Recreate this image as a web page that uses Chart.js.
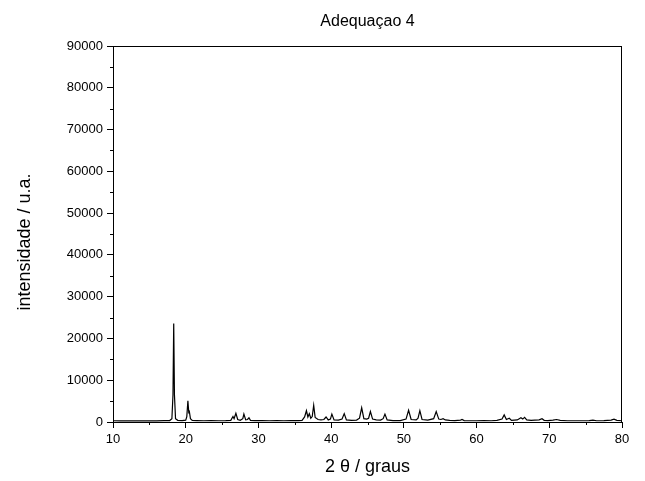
<!DOCTYPE html>
<html>
<head>
<meta charset="utf-8">
<script src="https://cdn.jsdelivr.net/npm/chart.js@4.4.1/dist/chart.umd.min.js"></script>
<style>
  html, body { margin: 0; padding: 0; background: #fff; }
  #wrap { width: 645px; height: 481px; }
</style>
</head>
<body>
<div id="wrap"><canvas id="grafico"></canvas></div>
<script>
const twoTheta = [
  10.0, 11.0, 12.0, 13.0, 14.0, 15.0, 16.0, 17.0, 17.8, 18.1, 18.25, 18.35, 18.45, 18.6, 18.9,
  19.5, 20.0, 20.15, 20.3, 20.42, 20.5, 20.65, 20.9, 21.5, 22.5, 23.5, 24.5, 25.5, 26.2, 26.5,
  26.65, 26.9, 27.15, 27.5, 27.85, 28.0, 28.25, 28.5, 28.7, 28.9, 29.5, 30.5, 31.5, 32.5, 33.5,
  34.5, 35.5, 36.0, 36.35, 36.6, 36.8, 37.0, 37.2, 37.4, 37.6, 37.8, 38.2, 38.6, 39.0, 39.3,
  39.6, 39.9, 40.1, 40.4, 41.0, 41.5, 41.8, 42.1, 42.8, 43.5, 43.9, 44.2, 44.5, 44.9, 45.15,
  45.4, 45.7, 46.2, 46.8, 47.15, 47.4, 47.7, 48.5, 49.5, 50.3, 50.65, 51.0, 51.7, 51.95, 52.2,
  52.5, 53.3, 54.1, 54.45, 54.8, 55.1, 55.4, 55.7, 56.3, 57.0, 57.8, 58.0, 58.3, 59.0, 60.0,
  61.0, 62.0, 62.8, 63.5, 63.8, 64.1, 64.5, 64.8, 65.6, 66.1, 66.35, 66.6, 66.9, 67.5, 68.0,
  68.6, 69.0, 69.3, 69.8, 70.5, 71.0, 71.5, 72.5, 73.5, 74.5, 75.5, 76.0, 76.5, 77.5, 78.5,
  78.9, 79.3, 80.0
];
const intensidade = [
  300, 250, 300, 250, 280, 300, 280, 320, 350, 800, 6500, 23600, 6500, 800, 400,
  350, 450, 1300, 5100, 2300, 2500, 800, 400, 350, 300, 320, 300, 320, 400, 1300,
  800, 2100, 600, 400, 800, 1900, 500, 600, 1000, 400, 350, 320, 300, 350, 300,
  350, 330, 400, 1200, 2700, 1200, 2000, 900, 1300, 4000, 1100, 600, 500, 600, 1200,
  500, 700, 1900, 500, 450, 700, 2000, 500, 400, 450, 900, 3400, 800, 700, 900,
  2500, 700, 500, 450, 800, 1900, 500, 350, 350, 700, 2800, 600, 500, 900, 2700,
  600, 450, 800, 2500, 700, 600, 800, 500, 400, 350, 450, 600, 350, 300, 300,
  350, 300, 400, 700, 1700, 600, 900, 400, 500, 1000, 700, 1100, 500, 400, 450,
  500, 800, 400, 350, 450, 600, 400, 300, 300, 300, 350, 450, 300, 350, 450,
  700, 400, 300
];
const xTicks = [10, 20, 30, 40, 50, 60, 70, 80];
const yTicks = [0, 10000, 20000, 30000, 40000, 50000, 60000, 70000, 80000, 90000];
const titulo = 'Adequaçao 4';
const tituloX = '2 θ / graus';
const tituloY = 'intensidade / u.a.';

const fonte = 'Liberation Sans, Arial, sans-serif';

// moldura, ticks menores, titulo e rotulo do eixo y
const molduraPlugin = {
  id: 'moldura',
  afterDraw(chart) {
    const ctx = chart.ctx;
    const a = chart.chartArea;
    const sx = chart.scales.x;
    const sy = chart.scales.y;
    ctx.save();
    ctx.strokeStyle = '#000';
    ctx.lineWidth = 1;
    ctx.strokeRect(a.left + 0.5, a.top + 0.5, a.right - a.left - 1, a.bottom - a.top);
    ctx.beginPath();
    for (let i = 0; i < xTicks.length - 1; i++) {
      const px = Math.round(sx.getPixelForValue((xTicks[i] + xTicks[i + 1]) / 2)) + 0.5;
      ctx.moveTo(px, a.bottom);
      ctx.lineTo(px, a.bottom + 3);
    }
    for (let i = 0; i < yTicks.length - 1; i++) {
      const py = Math.round(sy.getPixelForValue((yTicks[i] + yTicks[i + 1]) / 2)) + 0.5;
      ctx.moveTo(a.left, py);
      ctx.lineTo(a.left - 3, py);
    }
    ctx.stroke();
    ctx.fillStyle = '#000';
    ctx.textAlign = 'center';
    ctx.textBaseline = 'middle';
    ctx.font = '16px ' + fonte;
    ctx.fillText(titulo, (a.left + a.right) / 2, 22);
    ctx.translate(25, 242);
    ctx.rotate(-Math.PI / 2);
    ctx.font = '18px ' + fonte;
    ctx.fillText(tituloY, 0, 0);
    ctx.restore();
  }
};

new Chart(document.getElementById('grafico'), {
  type: 'line',
  data: {
    datasets: [{
      data: twoTheta.map((t, i) => ({ x: t, y: intensidade[i] })),
      borderColor: '#000',
      borderWidth: 1.2,
      pointRadius: 0,
      tension: 0,
      fill: false
    }]
  },
  options: {
    responsive: true,
    maintainAspectRatio: false,
    animation: false,
    layout: { padding: { top: 46, right: 23, left: 0, bottom: 0 } },
    plugins: {
      legend: { display: false },
      tooltip: { enabled: false },
      title: { display: false }
    },
    scales: {
      x: {
        type: 'linear',
        min: 10,
        max: 80,
        afterFit: (s) => { s.height = 59; },
        afterBuildTicks: (s) => { s.ticks = xTicks.map(v => ({ value: v })); },
        ticks: { color: '#000', font: { family: fonte, size: 13 }, padding: 4, maxRotation: 0 },
        grid: { drawOnChartArea: false, tickLength: 6, color: '#000' },
        border: { color: '#000', width: 1 },
        title: { display: true, text: tituloX, color: '#000', font: { family: fonte, size: 18 }, padding: { top: 0, bottom: 3 } }
      },
      y: {
        min: 0,
        max: 90000,
        afterFit: (s) => { s.width = 113; },
        afterBuildTicks: (s) => { s.ticks = yTicks.map(v => ({ value: v })); },
        ticks: { color: '#000', font: { family: fonte, size: 13 }, padding: 4, callback: (v) => String(v) },
        grid: { drawOnChartArea: false, tickLength: 6, color: '#000' },
        border: { color: '#000', width: 1 }
      }
    }
  },
  plugins: [molduraPlugin]
});
</script>
</body>
</html>
